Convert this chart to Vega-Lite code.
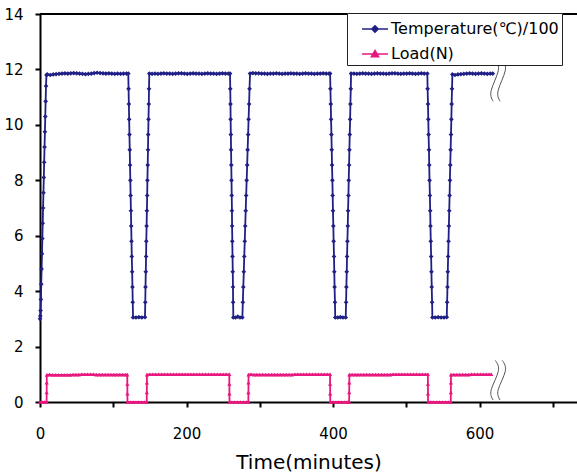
{
"$schema":"https://vega.github.io/schema/vega-lite/v6.json",
"width":537,"height":388,
"autosize":{"type":"none"},
"padding":{"left":40,"top":14,"right":0,"bottom":70},
"background":"white",
"config":{"view":{"stroke":null},"font":"DejaVu Sans"},
"datasets":{
"temp":[
{"t":0,"v":3.0},{"t":0.4,"v":3.1},{"t":0.8,"v":3.3},{"t":1.2,"v":3.7},{"t":1.7,"v":4.25},{"t":2.2,"v":4.8},{"t":2.7,"v":5.35},{"t":3.2,"v":5.9},{"t":3.7,"v":6.45},{"t":4.2,"v":7.0},{"t":4.7,"v":7.55},{"t":5.2,"v":8.1},{"t":5.7,"v":8.65},{"t":6.2,"v":9.2},{"t":6.7,"v":9.75},{"t":7.2,"v":10.3},{"t":7.7,"v":10.85},{"t":8.2,"v":11.4},{"t":8.8,"v":11.8},
{"t":10,"v":11.82},{"t":14,"v":11.8},{"t":18,"v":11.82},{"t":22,"v":11.83},{"t":26,"v":11.84},{"t":30,"v":11.85},{"t":34,"v":11.86},{"t":38,"v":11.85},{"t":42,"v":11.86},{"t":46,"v":11.87},{"t":50,"v":11.86},{"t":54,"v":11.85},{"t":58,"v":11.84},{"t":62,"v":11.83},{"t":66,"v":11.84},{"t":70,"v":11.85},{"t":74,"v":11.87},{"t":78,"v":11.88},{"t":82,"v":11.87},{"t":86,"v":11.86},{"t":90,"v":11.85},{"t":94,"v":11.86},{"t":98,"v":11.85},{"t":102,"v":11.84},{"t":106,"v":11.85},{"t":110,"v":11.84},{"t":114,"v":11.85},{"t":118,"v":11.85},
{"t":120.5,"v":11.85},{"t":120.9,"v":11.3},{"t":121.3,"v":10.75},{"t":121.7,"v":10.2},{"t":122.1,"v":9.65},{"t":122.5,"v":9.1},{"t":122.9,"v":8.55},{"t":123.3,"v":8.0},{"t":123.7,"v":7.45},{"t":124.1,"v":6.9},{"t":124.5,"v":6.35},{"t":124.9,"v":5.8},{"t":125.3,"v":5.25},{"t":125.8,"v":4.7},{"t":126.2,"v":4.15},{"t":126.6,"v":3.6},{"t":127,"v":3.05},
{"t":131,"v":3.05},{"t":135,"v":3.06},{"t":139,"v":3.05},{"t":143.3,"v":3.06},
{"t":143.7,"v":3.6},{"t":144,"v":4.15},{"t":144.4,"v":4.7},{"t":144.8,"v":5.25},{"t":145.1,"v":5.8},{"t":145.5,"v":6.35},{"t":145.9,"v":6.9},{"t":146.3,"v":7.45},{"t":146.6,"v":8.0},{"t":147,"v":8.55},{"t":147.4,"v":9.1},{"t":147.7,"v":9.65},{"t":148.1,"v":10.2},{"t":148.5,"v":10.75},{"t":148.8,"v":11.3},{"t":149.2,"v":11.85},
{"t":153,"v":11.84},{"t":157,"v":11.85},{"t":161,"v":11.84},{"t":165,"v":11.85},{"t":169,"v":11.86},{"t":173,"v":11.85},{"t":177,"v":11.85},{"t":181,"v":11.84},{"t":185,"v":11.85},{"t":189,"v":11.86},{"t":193,"v":11.86},{"t":197,"v":11.85},{"t":201,"v":11.84},{"t":205,"v":11.85},{"t":209,"v":11.86},{"t":213,"v":11.85},{"t":217,"v":11.85},{"t":221,"v":11.84},{"t":225,"v":11.85},{"t":229,"v":11.86},{"t":233,"v":11.85},{"t":237,"v":11.85},{"t":241,"v":11.84},{"t":245,"v":11.85},{"t":249,"v":11.86},{"t":253,"v":11.85},{"t":257,"v":11.85},
{"t":259.4,"v":11.85},{"t":259.7,"v":11.3},{"t":260,"v":10.75},{"t":260.2,"v":10.2},{"t":260.5,"v":9.65},{"t":260.8,"v":9.1},{"t":261.1,"v":8.55},{"t":261.4,"v":8.0},{"t":261.7,"v":7.45},{"t":262,"v":6.9},{"t":262.2,"v":6.35},{"t":262.5,"v":5.8},{"t":262.8,"v":5.25},{"t":263.1,"v":4.7},{"t":263.4,"v":4.15},{"t":263.6,"v":3.6},{"t":263.9,"v":3.05},
{"t":267,"v":3.05},{"t":270,"v":3.08},{"t":273,"v":3.05},{"t":276.2,"v":3.05},
{"t":276.9,"v":3.6},{"t":277.5,"v":4.15},{"t":278.2,"v":4.7},{"t":278.8,"v":5.25},{"t":279.5,"v":5.8},{"t":280.1,"v":6.35},{"t":280.8,"v":6.9},{"t":281.4,"v":7.45},{"t":282.1,"v":8.0},{"t":282.8,"v":8.55},{"t":283.4,"v":9.1},{"t":284.1,"v":9.65},{"t":284.7,"v":10.2},{"t":285.4,"v":10.75},{"t":286,"v":11.3},{"t":286.7,"v":11.85},
{"t":290.5,"v":11.87},{"t":294.5,"v":11.86},{"t":298.5,"v":11.86},{"t":302.5,"v":11.85},{"t":306.5,"v":11.85},{"t":310.5,"v":11.84},{"t":314.5,"v":11.85},{"t":318.5,"v":11.85},{"t":322.5,"v":11.86},{"t":326.5,"v":11.85},{"t":330.5,"v":11.84},{"t":334.5,"v":11.85},{"t":338.5,"v":11.85},{"t":342.5,"v":11.86},{"t":346.5,"v":11.85},{"t":350.5,"v":11.85},{"t":354.5,"v":11.84},{"t":358.5,"v":11.85},{"t":362.5,"v":11.86},{"t":366.5,"v":11.85},{"t":370.5,"v":11.85},{"t":374.5,"v":11.84},{"t":378.5,"v":11.85},{"t":382.5,"v":11.85},{"t":386.5,"v":11.86},{"t":390.5,"v":11.85},{"t":394.5,"v":11.85},
{"t":396,"v":11.85},{"t":396.4,"v":11.3},{"t":396.9,"v":10.75},{"t":397.3,"v":10.2},{"t":397.8,"v":9.65},{"t":398.2,"v":9.1},{"t":398.6,"v":8.55},{"t":399.1,"v":8.0},{"t":399.5,"v":7.45},{"t":399.9,"v":6.9},{"t":400.4,"v":6.35},{"t":400.8,"v":5.8},{"t":401.3,"v":5.25},{"t":401.7,"v":4.7},{"t":402.1,"v":4.15},{"t":402.6,"v":3.6},{"t":403,"v":3.05},
{"t":406.5,"v":3.05},{"t":410,"v":3.06},{"t":413.5,"v":3.05},{"t":417.3,"v":3.05},
{"t":417.8,"v":3.6},{"t":418.2,"v":4.15},{"t":418.7,"v":4.7},{"t":419.1,"v":5.25},{"t":419.6,"v":5.8},{"t":420.1,"v":6.35},{"t":420.5,"v":6.9},{"t":421,"v":7.45},{"t":421.4,"v":8.0},{"t":421.9,"v":8.55},{"t":422.3,"v":9.1},{"t":422.8,"v":9.65},{"t":423.3,"v":10.2},{"t":423.7,"v":10.75},{"t":424.2,"v":11.3},{"t":424.6,"v":11.85},
{"t":428.5,"v":11.85},{"t":432.5,"v":11.84},{"t":436.5,"v":11.85},{"t":440.5,"v":11.86},{"t":444.5,"v":11.85},{"t":448.5,"v":11.85},{"t":452.5,"v":11.84},{"t":456.5,"v":11.85},{"t":460.5,"v":11.86},{"t":464.5,"v":11.85},{"t":468.5,"v":11.85},{"t":472.5,"v":11.84},{"t":476.5,"v":11.85},{"t":480.5,"v":11.86},{"t":484.5,"v":11.86},{"t":488.5,"v":11.85},{"t":492.5,"v":11.84},{"t":496.5,"v":11.85},{"t":500.5,"v":11.85},{"t":504.5,"v":11.86},{"t":508.5,"v":11.85},{"t":512.5,"v":11.84},{"t":516.5,"v":11.85},{"t":520.5,"v":11.86},{"t":524.5,"v":11.85},
{"t":528.7,"v":11.85},{"t":529.1,"v":11.3},{"t":529.6,"v":10.75},{"t":530,"v":10.2},{"t":530.4,"v":9.65},{"t":530.9,"v":9.1},{"t":531.3,"v":8.55},{"t":531.7,"v":8.0},{"t":532.2,"v":7.45},{"t":532.6,"v":6.9},{"t":533,"v":6.35},{"t":533.4,"v":5.8},{"t":533.9,"v":5.25},{"t":534.3,"v":4.7},{"t":534.7,"v":4.15},{"t":535.2,"v":3.6},{"t":535.6,"v":3.05},
{"t":539.5,"v":3.05},{"t":543.5,"v":3.06},{"t":547.5,"v":3.05},{"t":551.5,"v":3.05},{"t":555.2,"v":3.06},
{"t":555.7,"v":3.6},{"t":556.2,"v":4.15},{"t":556.6,"v":4.7},{"t":557.1,"v":5.25},{"t":557.6,"v":5.8},{"t":558.1,"v":6.35},{"t":558.6,"v":6.9},{"t":559.1,"v":7.45},{"t":559.5,"v":8.0},{"t":560,"v":8.55},{"t":560.5,"v":9.1},{"t":561,"v":9.65},{"t":561.5,"v":10.2},{"t":561.9,"v":10.75},{"t":562.4,"v":11.3},{"t":562.9,"v":11.82},
{"t":566.5,"v":11.8},{"t":570.5,"v":11.82},{"t":574.5,"v":11.83},{"t":578.5,"v":11.84},{"t":582.5,"v":11.85},{"t":586.5,"v":11.86},{"t":590.5,"v":11.85},{"t":594.5,"v":11.84},{"t":598.5,"v":11.85},{"t":602.5,"v":11.86},{"t":606.5,"v":11.85},{"t":610.5,"v":11.84},{"t":614.5,"v":11.85},{"t":618,"v":11.85}
],
"load":[
{"t":0,"v":0},{"t":3,"v":0},{"t":6,"v":0},{"t":9,"v":0},{"t":9.1,"v":0.35},{"t":9.2,"v":0.7},{"t":9.3,"v":0.98},
{"t":13,"v":0.99},{"t":17,"v":0.98},{"t":21,"v":0.98},{"t":25,"v":0.98},{"t":29,"v":0.98},{"t":33,"v":0.98},{"t":37,"v":0.98},{"t":41,"v":0.98},{"t":45,"v":0.99},{"t":49,"v":0.99},{"t":53,"v":0.99},{"t":57,"v":1.0},{"t":61,"v":1.0},{"t":65,"v":1.0},{"t":69,"v":1.0},{"t":73,"v":1.0},{"t":77,"v":0.99},{"t":81,"v":0.99},{"t":85,"v":0.99},{"t":89,"v":0.99},{"t":93,"v":0.99},{"t":97,"v":0.99},{"t":101,"v":0.99},{"t":105,"v":0.99},{"t":109,"v":0.99},{"t":113,"v":0.99},{"t":117,"v":0.99},
{"t":119.1,"v":0.99},{"t":119.2,"v":0.65},{"t":119.3,"v":0.3},{"t":119.4,"v":0},
{"t":123,"v":0},{"t":127,"v":0},{"t":131,"v":0},{"t":135,"v":0},{"t":139,"v":0},{"t":143,"v":0},{"t":145.7,"v":0},
{"t":145.8,"v":0.35},{"t":145.9,"v":0.7},{"t":146,"v":0.99},
{"t":150,"v":1.0},{"t":154,"v":1.0},{"t":158,"v":1.0},{"t":162,"v":1.0},{"t":166,"v":1.0},{"t":170,"v":1.0},{"t":174,"v":1.0},{"t":178,"v":1.0},{"t":182,"v":1.0},{"t":186,"v":1.0},{"t":190,"v":1.0},{"t":194,"v":1.0},{"t":198,"v":1.0},{"t":202,"v":1.0},{"t":206,"v":1.0},{"t":210,"v":1.0},{"t":214,"v":1.0},{"t":218,"v":1.0},{"t":222,"v":1.0},{"t":226,"v":1.0},{"t":230,"v":1.0},{"t":234,"v":1.0},{"t":238,"v":1.0},{"t":242,"v":1.0},{"t":246,"v":1.0},{"t":250,"v":1.0},{"t":254,"v":1.0},
{"t":258.4,"v":1.0},{"t":258.5,"v":0.65},{"t":258.6,"v":0.3},{"t":258.7,"v":0},
{"t":262,"v":0},{"t":266,"v":0},{"t":270,"v":0},{"t":274,"v":0},{"t":278,"v":0},{"t":282,"v":0},{"t":284.4,"v":0},
{"t":284.5,"v":0.35},{"t":284.6,"v":0.7},{"t":284.7,"v":0.99},
{"t":288,"v":1.0},{"t":292,"v":0.99},{"t":296,"v":0.99},{"t":300,"v":0.99},{"t":304,"v":0.99},{"t":308,"v":0.99},{"t":312,"v":0.99},{"t":316,"v":0.99},{"t":320,"v":0.99},{"t":324,"v":0.99},{"t":328,"v":0.99},{"t":332,"v":0.99},{"t":336,"v":0.99},{"t":340,"v":0.99},{"t":344,"v":0.99},{"t":348,"v":1.0},{"t":352,"v":1.0},{"t":356,"v":1.0},{"t":360,"v":1.0},{"t":364,"v":1.0},{"t":368,"v":1.0},{"t":372,"v":1.0},{"t":376,"v":1.0},{"t":380,"v":1.0},{"t":384,"v":1.0},{"t":388,"v":1.0},{"t":392,"v":1.0},
{"t":395.9,"v":1.0},{"t":396,"v":0.65},{"t":396.1,"v":0.3},{"t":396.2,"v":0},
{"t":400,"v":0},{"t":404,"v":0},{"t":408,"v":0},{"t":412,"v":0},{"t":416,"v":0},{"t":420,"v":0},{"t":422,"v":0},
{"t":422.1,"v":0.35},{"t":422.2,"v":0.7},{"t":422.3,"v":0.99},
{"t":426,"v":0.99},{"t":430,"v":0.99},{"t":434,"v":0.99},{"t":438,"v":0.99},{"t":442,"v":0.99},{"t":446,"v":0.99},{"t":450,"v":0.99},{"t":454,"v":0.99},{"t":458,"v":0.99},{"t":462,"v":0.99},{"t":466,"v":0.99},{"t":470,"v":0.99},{"t":474,"v":0.99},{"t":478,"v":0.99},{"t":482,"v":1.0},{"t":486,"v":1.0},{"t":490,"v":1.0},{"t":494,"v":1.0},{"t":498,"v":1.0},{"t":502,"v":1.0},{"t":506,"v":1.0},{"t":510,"v":1.0},{"t":514,"v":1.0},{"t":518,"v":1.0},{"t":522,"v":1.0},{"t":526,"v":1.0},
{"t":529.4,"v":1.0},{"t":529.5,"v":0.65},{"t":529.6,"v":0.3},{"t":529.7,"v":0},
{"t":533,"v":0},{"t":537,"v":0},{"t":541,"v":0},{"t":545,"v":0},{"t":549,"v":0},{"t":553,"v":0},{"t":557,"v":0},{"t":560.7,"v":0},
{"t":560.8,"v":0.35},{"t":560.9,"v":0.7},{"t":561,"v":0.99},
{"t":565,"v":0.99},{"t":569,"v":0.99},{"t":573,"v":0.99},{"t":577,"v":0.99},{"t":581,"v":0.99},{"t":585,"v":0.99},{"t":589,"v":1.0},{"t":593,"v":1.0},{"t":597,"v":1.0},{"t":601,"v":1.0},{"t":605,"v":1.0},{"t":609,"v":1.0},{"t":613,"v":1.0},{"t":616,"v":1.0}
],
"breaks":[
{"g":"a1","k":1,"t":621.5,"v":12.35},{"g":"a1","k":2,"t":625.5,"v":11.95},{"g":"a1","k":3,"t":616,"v":11.25},{"g":"a1","k":4,"t":618.5,"v":10.85},
{"g":"a2","k":1,"t":631,"v":12.35},{"g":"a2","k":2,"t":635,"v":11.95},{"g":"a2","k":3,"t":625.5,"v":11.25},{"g":"a2","k":4,"t":628,"v":10.85},
{"g":"b1","k":1,"t":621.5,"v":1.5},{"g":"b1","k":2,"t":625.5,"v":1.1},{"g":"b1","k":3,"t":616,"v":0.45},{"g":"b1","k":4,"t":618.5,"v":0.07},
{"g":"b2","k":1,"t":631,"v":1.5},{"g":"b2","k":2,"t":635,"v":1.1},{"g":"b2","k":3,"t":625.5,"v":0.45},{"g":"b2","k":4,"t":628,"v":0.07}
]
},
"layer":[
{"data":{"name":"temp"},
 "mark":{"type":"line","strokeWidth":1.8},
 "encoding":{
  "x":{"field":"t","type":"quantitative","scale":{"domain":[0,733],"nice":false,"zero":false},
   "axis":{"values":[0,50,100,150,200,250,300,350,400,450,500,550,600,650,700],"labelExpr":"datum.value % 200 === 0 ? datum.label : ''","ticks":true,"tickSize":5,"tickWidth":2,"tickColor":"black","tickOpacity":1,"domainColor":"black","domainWidth":2,"grid":false,"labelFont":"DejaVu Sans","labelFontSize":15,"labelColor":"black","labelPadding":19,"labelFlush":false,"labelOverlap":false,"title":"Time(minutes)","titleFont":"DejaVu Sans","titleFontSize":20,"titleFontWeight":"normal","titleColor":"black","titlePadding":11,
    "encode":{"ticks":{"update":{"y2":{"value":-5}}}}}},
  "y":{"field":"v","type":"quantitative","scale":{"domain":[0,14],"nice":false},
   "axis":{"values":[0,1,2,3,4,5,6,7,8,9,10,11,12,13,14],"labelExpr":"datum.value % 2 === 0 ? datum.label : ''","ticks":true,"tickSize":5,"tickWidth":2,"tickColor":"black","tickOpacity":1,"domainColor":"black","domainWidth":2,"grid":false,"labelFont":"DejaVu Sans","labelFontSize":15,"labelColor":"black","labelPadding":12,"labelOverlap":false,"title":null,
    "encode":{"ticks":{"update":{"x2":{"value":5}}}}}},
  "color":{"datum":"Temperature(℃)/100","type":"nominal",
   "scale":{"domain":["Temperature(℃)/100","Load(N)"],"range":["#1f1f85","#e8177f"]},
   "legend":{"title":null,"orient":"none","legendX":307,"legendY":-1,"padding":3,"strokeColor":"#222","fillColor":"white","symbolSize":576,"symbolStrokeWidth":1.5,"symbolOffset":12,"labelOffset":3,"labelFont":"DejaVu Sans","labelFontSize":16,"labelColor":"black","labelLimit":400,"rowPadding":4,
    "encode":{"symbols":{"update":{"shape":{"signal":"datum.value == 'Load(N)' ? 'M-1.08,0H1.08M0,-0.3L0.3,0.22L-0.3,0.22Z' : 'M-1.08,0H1.08M0,-0.27L0.27,0L0,0.27L-0.27,0Z'"},"fill":{"scale":"color","field":"value"},"stroke":{"scale":"color","field":"value"},"opacity":{"value":1}}}}}}
 }},
{"data":{"name":"temp"},
 "mark":{"type":"point","shape":"diamond","filled":true,"size":22,"opacity":1},
 "encoding":{"x":{"field":"t","type":"quantitative"},"y":{"field":"v","type":"quantitative"},"color":{"datum":"Temperature(℃)/100","type":"nominal"}}},
{"data":{"name":"load"},
 "mark":{"type":"line","strokeWidth":1.8},
 "encoding":{"x":{"field":"t","type":"quantitative"},"y":{"field":"v","type":"quantitative"},"color":{"datum":"Load(N)","type":"nominal"}}},
{"data":{"name":"load"},
 "mark":{"type":"point","shape":"triangle-up","filled":true,"size":18,"opacity":1},
 "encoding":{"x":{"field":"t","type":"quantitative"},"y":{"field":"v","type":"quantitative"},"color":{"datum":"Load(N)","type":"nominal"}}},
{"data":{"name":"breaks"},
 "mark":{"type":"line","interpolate":"natural","color":"#555","strokeWidth":1},
 "encoding":{"x":{"field":"t","type":"quantitative"},"y":{"field":"v","type":"quantitative"},"detail":{"field":"g","type":"nominal"},"order":{"field":"k","type":"quantitative"}}},
{"data":{"values":[{}]},
 "mark":{"type":"rule","color":"black","strokeWidth":2},
 "encoding":{"y":{"datum":14,"type":"quantitative"}}}
]
}
